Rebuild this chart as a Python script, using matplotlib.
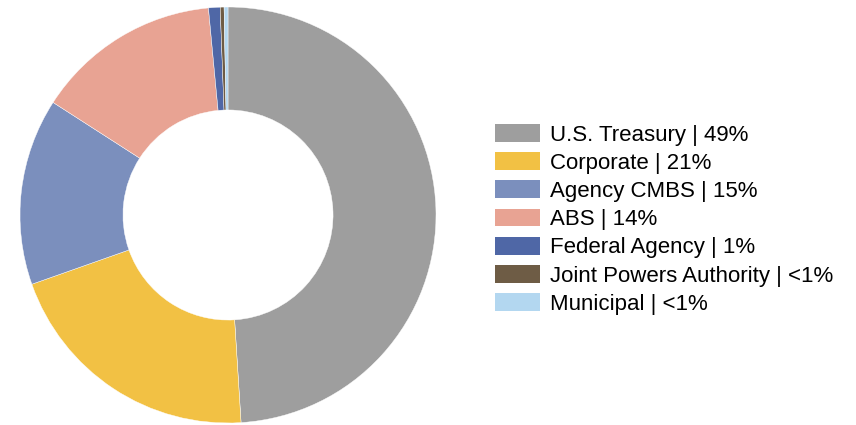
import matplotlib.pyplot as plt
from matplotlib.patches import Patch

plt.rcParams['font.family'] = ['Liberation Sans', 'DejaVu Sans']

# portfolio sectors, clockwise from 12 o'clock
sectors = ['U.S. Treasury', 'Corporate', 'Agency CMBS', 'ABS',
           'Federal Agency', 'Joint Powers Authority', 'Municipal']
shares = [49.0, 20.6, 14.5, 14.4, 0.9, 0.3, 0.3]
share_labels = ['49%', '21%', '15%', '14%', '1%', '<1%', '<1%']
colors = ['#9e9e9e', '#f2c144', '#7b8fbd', '#e8a393',
          '#4f67a6', '#6e5c45', '#b3d7f0']

fig = plt.figure(figsize=(8.56, 4.25), dpi=100)
ax = fig.add_axes([20 / 856, 2 / 425, 416 / 856, 416 / 425])

ax.pie(shares, colors=colors, startangle=90, counterclock=False,
       radius=1.0,
       wedgeprops=dict(width=0.495, edgecolor='white', linewidth=0.3))
ax.set_xlim(-1, 1)
ax.set_ylim(-1, 1)
ax.set_aspect('equal')
ax.axis('off')

handles = [Patch(facecolor=c, edgecolor='none') for c in colors]
labels = [f'{s} | {p}' for s, p in zip(sectors, share_labels)]
fig.legend(handles, labels, loc='upper left',
           bbox_to_anchor=(495 / 856, 1 - 124 / 425),
           frameon=False, fontsize=16, borderpad=0, borderaxespad=0,
           handlelength=2.03, handleheight=0.86, handletextpad=0.45,
           labelspacing=0.295)

fig.savefig('out.png', dpi=100)
